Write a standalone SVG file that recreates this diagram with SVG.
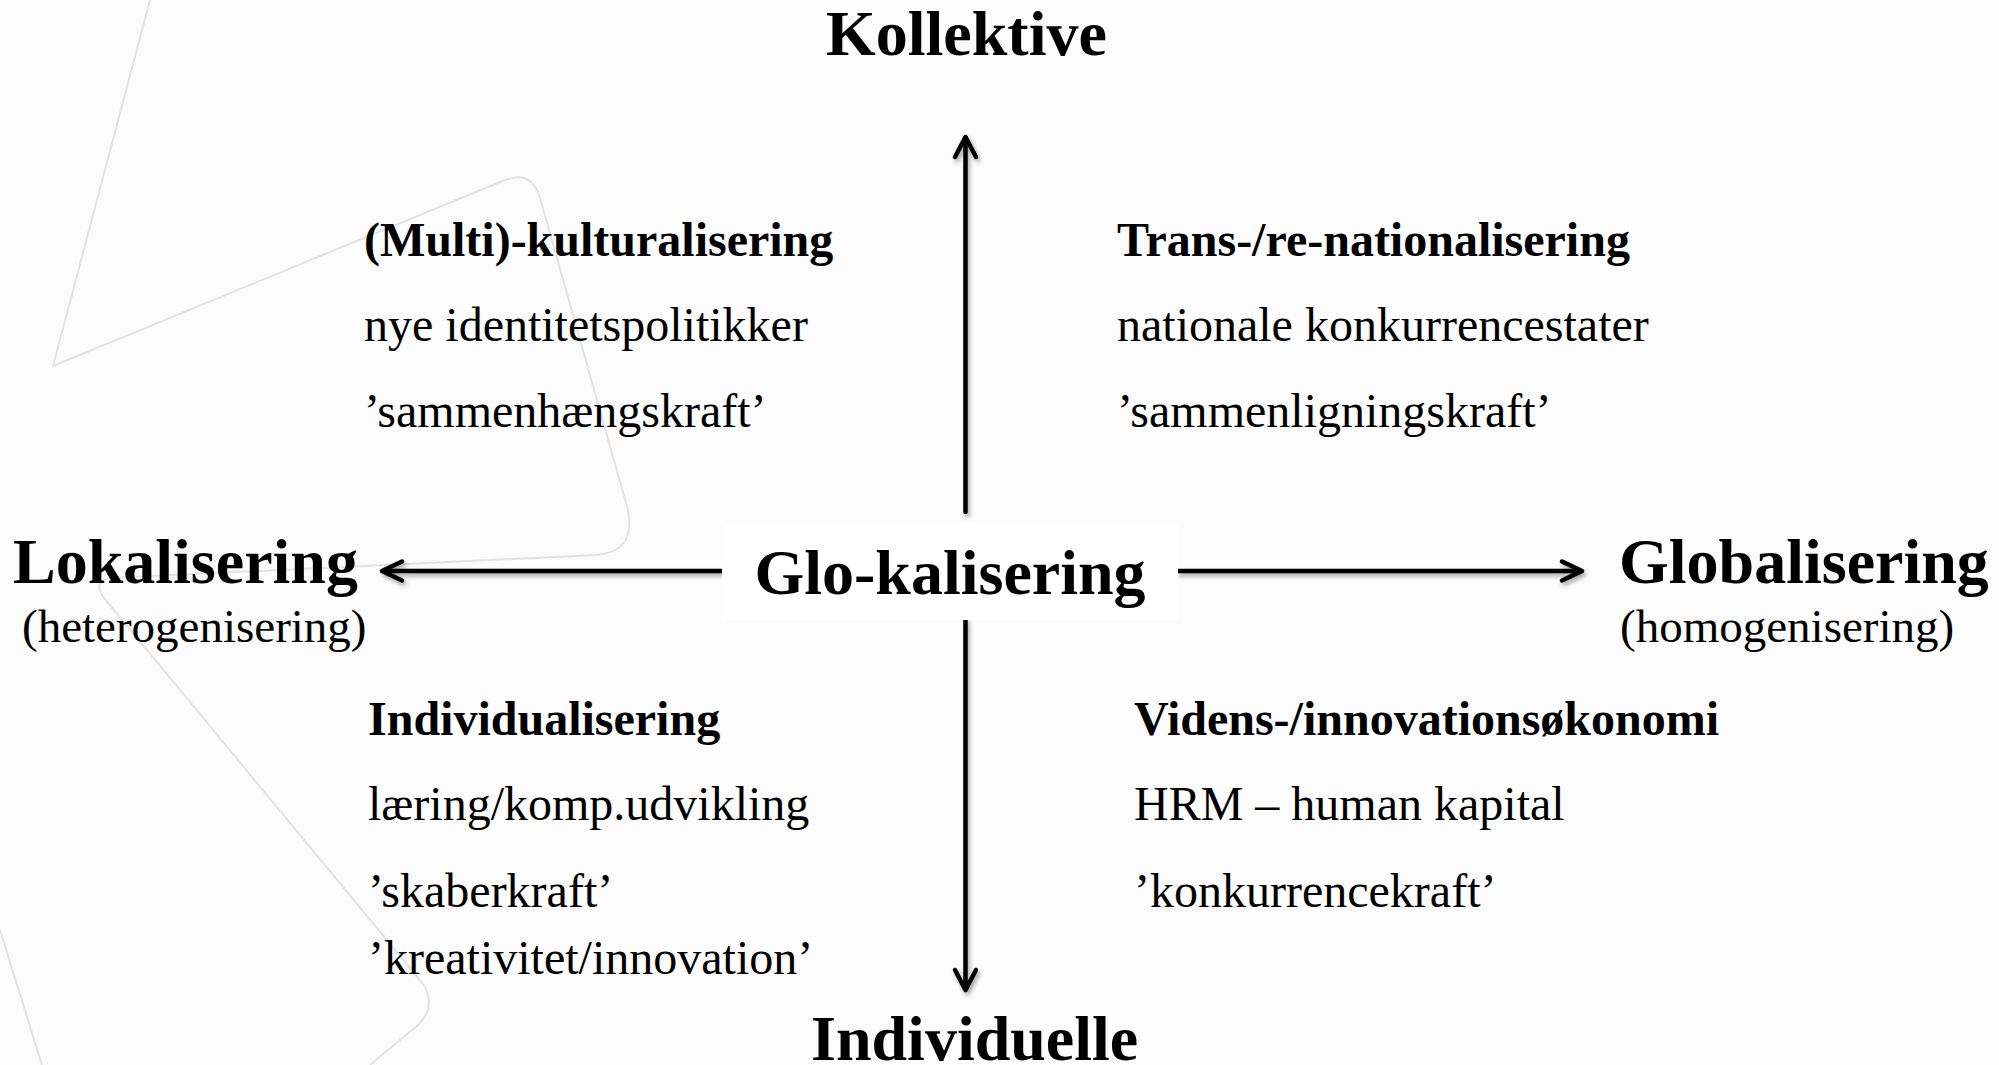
<svg xmlns="http://www.w3.org/2000/svg" width="1999" height="1065" viewBox="0 0 1999 1065">
<defs>
<style>
.t{font-family:"Liberation Serif","Times New Roman",serif;fill:#000}
.big{font-size:64px;font-weight:bold}
.sub{font-size:47px}
.h{font-size:48px;font-weight:bold}
.r{font-size:48px}
.ax{stroke:#000;stroke-width:4.5;fill:none;stroke-linecap:round;stroke-linejoin:round}
.wm{stroke:#e3e3e3;stroke-width:2;fill:none;stroke-linejoin:round}
</style>
<filter id="sh" filterUnits="userSpaceOnUse" x="0" y="0" width="1999" height="1065">
<feDropShadow dx="2" dy="3" stdDeviation="2" flood-color="#000" flood-opacity="0.35"/>
</filter>
</defs>
<rect width="1999" height="1065" fill="#fcfcfc"/>
<g id="watermark">
<path class="wm" d="M150,0 L53,366 L505,180 Q532,170 540,198 L628,510 Q636,552 596,555 L110,578 Q92,582 104,598 L424,985 Q436,1008 418,1025 L370,1065"/>
<path class="wm" d="M0,930 L42,1065"/>
</g>
<g id="connectors" filter="url(#sh)">
<path class="ax" d="M965.5,512 L965.5,138"/>
<path class="ax" d="M955,157 L965.5,137 L976,157"/>
<path class="ax" d="M965.5,620 L965.5,988"/>
<path class="ax" d="M955,970 L965.5,990 L976,970"/>
<path class="ax" d="M722,571 L384,571"/>
<path class="ax" d="M402,561.5 L382,571 L402,580.5"/>
<path class="ax" d="M1178,571 L1580,571"/>
<path class="ax" d="M1562,561.5 L1582,571 L1562,580.5"/>
</g>
<g id="node-center">
<rect x="722" y="522" width="456" height="98" fill="#fff"/>
<text class="t big" x="950" y="594" text-anchor="middle">Glo-kalisering</text>
</g>
<g id="node-kollektive">
<text class="t big" x="826" y="55">Kollektive</text>
</g>
<g id="node-individuelle">
<text class="t big" x="811" y="1060">Individuelle</text>
</g>
<g id="node-lokalisering">
<text class="t big" x="13" y="583">Lokalisering</text>
<text class="t sub" x="22" y="642">(heterogenisering)</text>
</g>
<g id="node-globalisering">
<text class="t big" x="1619" y="583">Globalisering</text>
<text class="t sub" x="1620" y="642">(homogenisering)</text>
</g>
<g id="node-q-top-left">
<text class="t h" x="364" y="256">(Multi)-kulturalisering</text>
<text class="t r" x="364" y="341">nye identitetspolitikker</text>
<text class="t r" x="364" y="427">’sammenhængskraft’</text>
</g>
<g id="node-q-top-right">
<text class="t h" x="1117" y="256">Trans-/re-nationalisering</text>
<text class="t r" x="1117" y="341">nationale konkurrencestater</text>
<text class="t r" x="1117" y="427">’sammenligningskraft’</text>
</g>
<g id="node-q-bottom-left">
<text class="t h" x="368" y="735">Individualisering</text>
<text class="t r" x="368" y="820">læring/komp.udvikling</text>
<text class="t r" x="368" y="907">’skaberkraft’</text>
<text class="t r" x="368" y="974">’kreativitet/innovation’</text>
</g>
<g id="node-q-bottom-right">
<text class="t h" x="1134" y="735">Videns-/innovationsøkonomi</text>
<text class="t r" x="1134" y="820">HRM – human kapital</text>
<text class="t r" x="1134" y="907">’konkurrencekraft’</text>
</g>
</svg>
